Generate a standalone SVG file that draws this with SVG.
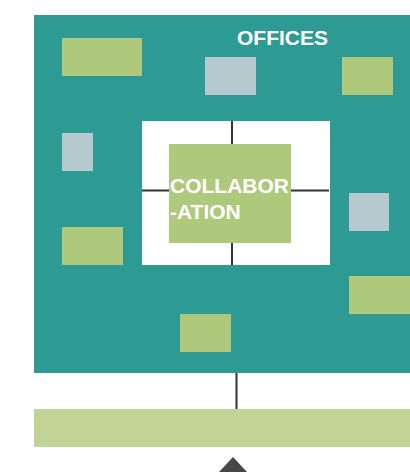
<svg xmlns="http://www.w3.org/2000/svg" width="410" height="472" viewBox="0 0 410 472">
<style>
.teal{fill:#2E9A94}
.grn{fill:#AFC97C}
.gry{fill:#B6C9CF}
.bar{fill:#C2D396}
.ln{stroke:#333;stroke-width:2;fill:none}
.lbl{font-family:"Liberation Sans",Arial,sans-serif;font-weight:bold;font-size:21px;fill:#fff}
</style>
<rect width="410" height="472" fill="#fff"/>
<g id="offices">
<rect class="teal" x="34" y="15" width="376" height="358"/>
<text class="lbl" x="237" y="45">OFFICES</text>
</g>
<g id="office1"><rect class="grn" x="62" y="38" width="80" height="38"/></g>
<g id="office2"><rect class="gry" x="205" y="57" width="51" height="38"/></g>
<g id="office3"><rect class="grn" x="342" y="57" width="51" height="38"/></g>
<g id="office4"><rect class="gry" x="62" y="133" width="31" height="38"/></g>
<g id="office5"><rect class="grn" x="62" y="227" width="61" height="38"/></g>
<g id="office6"><rect class="gry" x="349" y="193" width="40" height="38"/></g>
<g id="office7"><rect class="grn" x="349" y="276" width="61" height="38"/></g>
<g id="office8"><rect class="grn" x="180" y="314" width="51" height="38"/></g>
<g id="collab-area"><rect fill="#fff" x="142" y="121" width="188" height="144"/></g>
<g id="connectors">
<line class="ln" x1="232" y1="121" x2="232" y2="144"/>
<line class="ln" x1="232" y1="243" x2="232" y2="265"/>
<line class="ln" x1="142" y1="190.5" x2="169" y2="190.5"/>
<line class="ln" x1="291" y1="190.5" x2="329" y2="190.5"/>
<line class="ln" x1="236.5" y1="373" x2="236.5" y2="409"/>
</g>
<g id="collaboration">
<rect class="grn" x="169" y="144" width="122" height="99"/>
<text class="lbl"><tspan x="170" y="193">COLLABOR</tspan><tspan x="170" y="219">-ATION</tspan></text>
</g>
<g id="bar"><rect class="bar" x="34" y="409" width="376" height="38"/></g>
<g id="arrow"><polygon fill="#474747" points="233,457 247,472 219,472"/></g>
</svg>
